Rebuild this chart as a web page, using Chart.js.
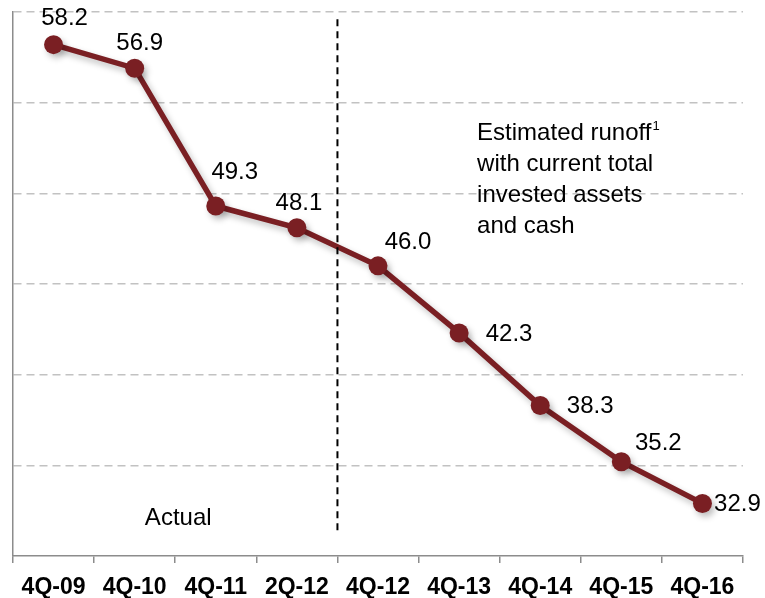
<!DOCTYPE html>
<html>
<head>
<meta charset="utf-8">
<script src="https://cdn.jsdelivr.net/npm/chart.js@4/dist/chart.umd.min.js"></script>
<style>
  body { margin: 0; background: #fff; }
  canvas { display: block; }
</style>
</head>
<body>
<canvas id="runoffChart" width="765" height="598"></canvas>
<script>
// quarters on the x axis
const quarters = ["4Q-09", "4Q-10", "4Q-11", "2Q-12", "4Q-12", "4Q-13", "4Q-14", "4Q-15", "4Q-16"];
// invested assets and cash ($bn)
const assetValues = [58.2, 56.9, 49.3, 48.1, 46.0, 42.3, 38.3, 35.2, 32.9];
const valueLabels = ["58.2", "56.9", "49.3", "48.1", "46.0", "42.3", "38.3", "35.2", "32.9"];

// where each value label sits relative to its point (px)
const labelOffsets = [[11, -27], [5, -26], [19, -35], [2, -25], [30, -24], [50, 0], [50, 0], [37, -19], [35, 0]];

const lineColor = "#7A1F23";
const fontFamily = "'Liberation Sans', Arial, Helvetica, sans-serif";

// soft shadow under the line and points
const shadowPlugin = {
    id: "shadow",
    beforeDatasetsDraw(chart) {
        const ctx = chart.ctx;
        ctx.save();
        ctx.shadowColor = "rgba(0,0,0,0.25)";
        ctx.shadowBlur = 6;
        ctx.shadowOffsetX = 3;
        ctx.shadowOffsetY = 4;
    },
    afterDatasetsDraw(chart) {
        chart.ctx.restore();
    }
};

const extrasPlugin = {
    id: "extras",
    afterDatasetsDraw(chart) {
        const ctx = chart.ctx;
        const x = chart.scales.x;
        const y = chart.scales.y;

        // dashed divider between actual and estimated
        const divX = (x.getPixelForValue(3) + x.getPixelForValue(4)) / 2;
        ctx.save();
        ctx.strokeStyle = "#000";
        ctx.lineWidth = 2;
        ctx.setLineDash([7, 5]);
        ctx.beginPath();
        ctx.moveTo(divX, y.getPixelForValue(59.6));
        ctx.lineTo(divX, y.getPixelForValue(31.3));
        ctx.stroke();
        ctx.restore();

        // value labels
        const meta = chart.getDatasetMeta(0);
        ctx.save();
        ctx.fillStyle = "#000";
        ctx.font = "24px " + fontFamily;
        ctx.textAlign = "center";
        ctx.textBaseline = "middle";
        meta.data.forEach((pt, i) => {
            const off = labelOffsets[i];
            ctx.fillText(valueLabels[i], pt.x + off[0], pt.y + off[1] + 1);
        });

        // "Actual"
        ctx.textAlign = "center";
        ctx.textBaseline = "alphabetic";
        const actX = (x.getPixelForValue(1) + x.getPixelForValue(2)) / 2 + 3;
        ctx.fillText("Actual", actX, y.getPixelForValue(30) - 31);

        // estimated runoff note
        ctx.textAlign = "left";
        const noteX = x.getPixelForValue(5) + 18;
        const baseY = y.getPixelForValue(52.95);
        const lines = ["Estimated runoff", "with current total", "invested assets", "and cash"];
        lines.forEach((t, i) => {
            ctx.fillText(t, noteX, baseY + i * 31);
        });
        const w = ctx.measureText(lines[0]).width;
        ctx.font = "13px " + fontFamily;
        ctx.fillText("1", noteX + w + 1, baseY - 10);
        ctx.restore();
    }
};

new Chart(document.getElementById("runoffChart"), {
    type: "line",
    data: {
        labels: quarters,
        datasets: [{
            data: assetValues,
            borderColor: lineColor,
            backgroundColor: lineColor,
            borderWidth: 5.5,
            tension: 0,
            pointRadius: 9.5,
            pointBackgroundColor: lineColor,
            pointBorderWidth: 0,
            clip: false
        }]
    },
    options: {
        responsive: false,
        animation: false,
        layout: { padding: { left: 13, right: 22, top: 12, bottom: 0 } },
        plugins: {
            legend: { display: false },
            tooltip: { enabled: false }
        },
        scales: {
            x: {
                offset: true,
                afterFit: scale => { scale.height = 42; },
                grid: {
                    offset: true,
                    drawOnChartArea: false,
                    drawTicks: true,
                    tickLength: 7,
                    color: "#8C8C8C",
                    lineWidth: 1.5
                },
                border: { display: true, color: "#8C8C8C", width: 1.5 },
                ticks: {
                    color: "#000",
                    padding: 11,
                    maxRotation: 0,
                    autoSkip: false,
                    font: { family: fontFamily, size: 23, weight: "bold" }
                }
            },
            y: {
                min: 30,
                max: 60,
                ticks: { display: false, stepSize: 5 },
                grid: {
                    drawTicks: false,
                    color: ctx => ctx.tick && ctx.tick.value === 30 ? "rgba(0,0,0,0)" : "#C2C2C2",
                    lineWidth: 1.5
                },
                border: { display: true, color: "#8C8C8C", width: 1.5, dash: [8, 5], dashOffset: 0 }
            }
        }
    },
    plugins: [shadowPlugin, extrasPlugin]
});
</script>
</body>
</html>
